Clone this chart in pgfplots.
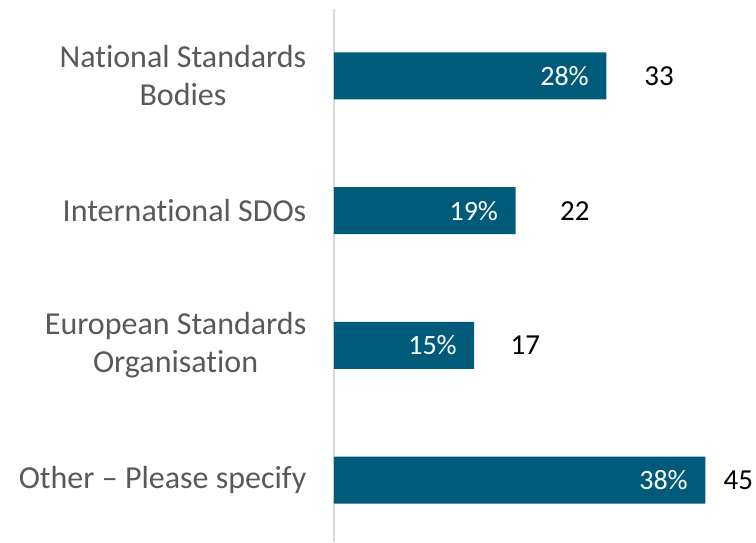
\documentclass[border=0pt]{standalone}
\usepackage{pgfplots}
\pgfplotsset{compat=1.18}
\usepackage{fontspec}
\setmainfont[Ligatures=NoCommon]{Carlito}
\definecolor{barblue}{HTML}{005A7A}
\definecolor{labgray}{HTML}{595959}
\definecolor{axgray}{HTML}{D9D9D9}
\begin{document}
\begin{tikzpicture}
\begin{axis}[
  scale only axis,
  width=422pt, height=533pt,
  xmin=0, xmax=51.15,
  ymin=-0.497, ymax=3.46,
  y dir=reverse,
  axis x line=none,
  axis y line=left,
  axis line style={draw=axgray, line width=1.5pt, -},
  ytick={0,1,2,3},
  yticklabels={{National Standards\\Bodies},{International SDOs},{European Standards\\Organisation},{Other -- Please specify}},
  yticklabel style={align=center, text=labgray, font=\fontsize{32}{38}\selectfont, xshift=-22pt},
  ytick style={draw=none},
  clip=false,
]
\addplot[xbar, bar width=47pt, fill=barblue, draw=none,
  point meta=explicit symbolic,
  nodes near coords,
  every node near coord/.append style={anchor=east, xshift=-14pt, text=white, font=\fontsize{28}{32}\selectfont}]
  coordinates {(33,0) [28\%] (22,1) [19\%] (17,2) [15\%] (45,3) [38\%]};
\addplot[draw=none, mark=none,
  point meta=explicit symbolic,
  nodes near coords,
  every node near coord/.append style={anchor=center, text=black, font=\fontsize{29}{32}\selectfont}]
  coordinates {(39.4,0) [33] (29.2,1) [22] (23.2,2) [17] (49.0,3) [45]};
\end{axis}
\pgfresetboundingbox
\path[use as bounding box] ([xshift=-334pt,yshift=9pt]current axis.north west) rectangle (current axis.south east);
\end{tikzpicture}
\end{document}
